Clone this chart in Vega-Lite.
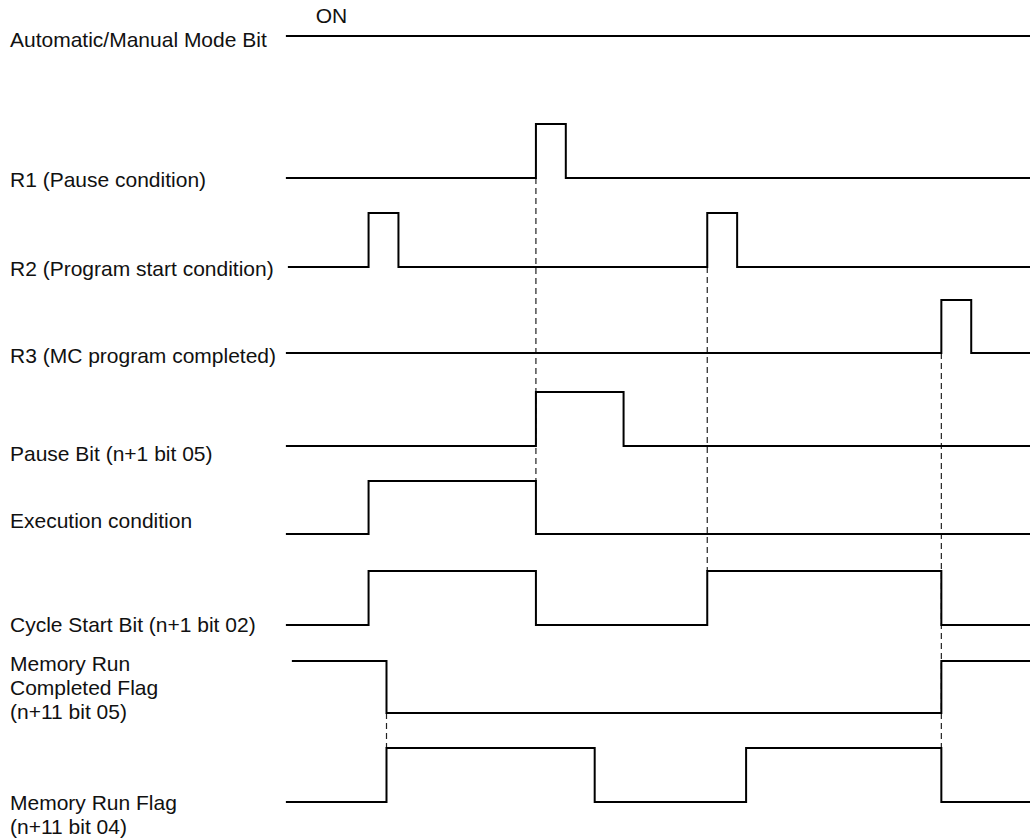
{
  "$schema": "https://vega.github.io/schema/vega-lite/v6.json",
  "width": 1034,
  "height": 839,
  "autosize": {"type": "fit", "contains": "padding"},
  "padding": 0,
  "background": "white",
  "config": {"view": {"stroke": null}},
  "datasets": {
    "waveforms": [
      {"signal": "Automatic/Manual Mode Bit", "t": 287, "y": 36},
      {"signal": "Automatic/Manual Mode Bit", "t": 1034, "y": 36},
      {"signal": "R1", "t": 287, "y": 178},
      {"signal": "R1", "t": 538, "y": 124},
      {"signal": "R1", "t": 568, "y": 178},
      {"signal": "R1", "t": 1034, "y": 178},
      {"signal": "R2", "t": 289, "y": 267},
      {"signal": "R2", "t": 370, "y": 213},
      {"signal": "R2", "t": 400, "y": 267},
      {"signal": "R2", "t": 710, "y": 213},
      {"signal": "R2", "t": 740, "y": 267},
      {"signal": "R2", "t": 1034, "y": 267},
      {"signal": "R3", "t": 287, "y": 353},
      {"signal": "R3", "t": 945, "y": 300},
      {"signal": "R3", "t": 975, "y": 353},
      {"signal": "R3", "t": 1034, "y": 353},
      {"signal": "Pause Bit", "t": 287, "y": 446},
      {"signal": "Pause Bit", "t": 538, "y": 392},
      {"signal": "Pause Bit", "t": 626, "y": 446},
      {"signal": "Pause Bit", "t": 1034, "y": 446},
      {"signal": "Execution condition", "t": 287, "y": 534},
      {"signal": "Execution condition", "t": 370, "y": 481},
      {"signal": "Execution condition", "t": 538, "y": 534},
      {"signal": "Execution condition", "t": 1034, "y": 534},
      {"signal": "Cycle Start Bit", "t": 287, "y": 625},
      {"signal": "Cycle Start Bit", "t": 370, "y": 571},
      {"signal": "Cycle Start Bit", "t": 538, "y": 625},
      {"signal": "Cycle Start Bit", "t": 710, "y": 571},
      {"signal": "Cycle Start Bit", "t": 945, "y": 625},
      {"signal": "Cycle Start Bit", "t": 1034, "y": 625},
      {"signal": "Memory Run Completed Flag", "t": 293, "y": 661},
      {"signal": "Memory Run Completed Flag", "t": 388, "y": 713},
      {"signal": "Memory Run Completed Flag", "t": 945, "y": 661},
      {"signal": "Memory Run Completed Flag", "t": 1034, "y": 661},
      {"signal": "Memory Run Flag", "t": 287, "y": 802},
      {"signal": "Memory Run Flag", "t": 388, "y": 748},
      {"signal": "Memory Run Flag", "t": 597, "y": 802},
      {"signal": "Memory Run Flag", "t": 749, "y": 748},
      {"signal": "Memory Run Flag", "t": 945, "y": 802},
      {"signal": "Memory Run Flag", "t": 1034, "y": 802}
    ],
    "guides": [
      {"t": 538, "y": 178, "y2": 481},
      {"t": 710, "y": 267, "y2": 571},
      {"t": 945, "y": 353, "y2": 748},
      {"t": 388, "y": 713, "y2": 748}
    ],
    "labels": [
      {"text": "ON", "t": 317, "y": 23},
      {"text": "Automatic/Manual Mode Bit", "t": 10, "y": 47},
      {"text": "R1 (Pause condition)", "t": 10, "y": 187},
      {"text": "R2 (Program start condition)", "t": 10, "y": 276},
      {"text": "R3 (MC program completed)", "t": 10, "y": 363},
      {"text": "Pause Bit (n+1 bit 05)", "t": 10, "y": 461},
      {"text": "Execution condition", "t": 10, "y": 528},
      {"text": "Cycle Start Bit (n+1 bit 02)", "t": 10, "y": 632},
      {"text": "Memory Run\nCompleted Flag\n(n+11 bit 05)", "t": 10, "y": 671},
      {"text": "Memory Run Flag\n(n+11 bit 04)", "t": 10, "y": 810}
    ]
  },
  "layer": [
    {
      "data": {"name": "guides"},
      "mark": {"type": "rule", "color": "#222222", "strokeWidth": 1.2, "strokeDash": [6, 4]},
      "encoding": {
        "x": {"field": "t", "type": "quantitative", "scale": {"domain": [0, 1034], "nice": false, "zero": false}, "axis": null},
        "y": {"field": "y", "type": "quantitative", "scale": {"domain": [0, 839], "reverse": true, "nice": false, "zero": false}, "axis": null},
        "y2": {"field": "y2"}
      }
    },
    {
      "data": {"name": "waveforms"},
      "mark": {"type": "line", "interpolate": "step-after", "color": "#000000", "strokeWidth": 2, "strokeJoin": "miter", "strokeCap": "butt"},
      "encoding": {
        "x": {"field": "t", "type": "quantitative", "axis": null},
        "y": {"field": "y", "type": "quantitative", "axis": null},
        "detail": {"field": "signal", "type": "nominal"}
      }
    },
    {
      "data": {"name": "labels"},
      "mark": {"type": "text", "align": "left", "baseline": "alphabetic", "font": "Liberation Sans", "fontSize": 21, "lineBreak": "\n", "lineHeight": 24, "color": "#111111"},
      "encoding": {
        "x": {"field": "t", "type": "quantitative", "axis": null},
        "y": {"field": "y", "type": "quantitative", "axis": null},
        "text": {"field": "text", "type": "nominal"}
      }
    }
  ]
}
